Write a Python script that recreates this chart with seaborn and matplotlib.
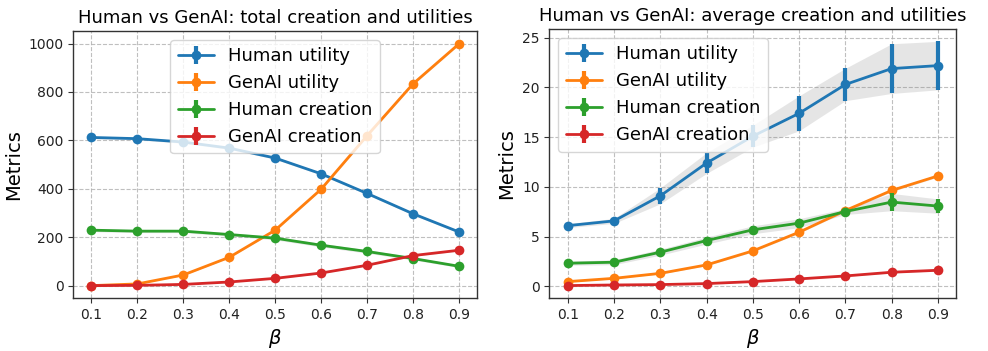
import numpy as np
import pandas as pd
import seaborn as sns
import matplotlib
matplotlib.use("Agg")
import matplotlib.pyplot as plt
from matplotlib.container import ErrorbarContainer

beta = [0.1, 0.2, 0.3, 0.4, 0.5, 0.6, 0.7, 0.8, 0.9]
series_names = ["Human utility", "GenAI utility", "Human creation", "GenAI creation"]

# total (left panel)
total_human_utility = [612, 607, 593, 568, 527, 462, 381, 297, 222]
total_genai_utility = [0, 7, 44, 117, 229, 398, 619, 833, 998]
total_human_creation = [229, 225, 225, 211, 196, 167, 141, 112, 80]
total_genai_creation = [0, 1, 5, 15, 30, 52, 84, 124, 146]
total_human_utility_std = [5, 5, 5, 5, 5, 5, 5, 5, 5]
total_genai_utility_std = [1, 1, 2, 2, 3, 3, 4, 4, 4]
total_human_creation_std = [6, 6, 6, 6, 7, 7, 7, 6, 5]
total_genai_creation_std = [1, 1, 1, 1, 2, 2, 2, 3, 3]

# average (right panel)
avg_human_utility = [6.1, 6.58, 9.1, 12.4, 15.1, 17.4, 20.3, 21.9, 22.2]
avg_genai_utility = [0.47, 0.8, 1.3, 2.15, 3.56, 5.44, 7.62, 9.64, 11.1]
avg_human_creation = [2.32, 2.42, 3.43, 4.6, 5.68, 6.35, 7.52, 8.47, 8.07]
avg_genai_creation = [0.07, 0.13, 0.17, 0.27, 0.47, 0.74, 1.04, 1.41, 1.61]
avg_human_utility_std = [0.2, 0.25, 0.8, 1.04, 1.1, 1.76, 1.63, 2.5, 2.44]
avg_genai_utility_std = [0.05, 0.05, 0.05, 0.08, 0.1, 0.1, 0.12, 0.12, 0.12]
avg_human_creation_std = [0.2, 0.25, 0.3, 0.35, 0.4, 0.45, 0.3, 0.87, 0.72]
avg_genai_creation_std = [0.02, 0.02, 0.03, 0.03, 0.04, 0.05, 0.05, 0.06, 0.06]

titles = ["Human vs GenAI: total creation and utilities",
          "Human vs GenAI: average creation and utilities"]

panels = [
    ([total_human_utility, total_genai_utility, total_human_creation, total_genai_creation],
     [total_human_utility_std, total_genai_utility_std, total_human_creation_std, total_genai_creation_std]),
    ([avg_human_utility, avg_genai_utility, avg_human_creation, avg_genai_creation],
     [avg_human_utility_std, avg_genai_utility_std, avg_human_creation_std, avg_genai_creation_std]),
]

sns.set_style("ticks")
plt.rcParams['font.family'] = ['DejaVu Sans']
plt.rcParams['text.color'] = 'black'
plt.rcParams['axes.labelcolor'] = 'black'
plt.rcParams['xtick.color'] = '#222222'
plt.rcParams['ytick.color'] = '#222222'
palette = sns.color_palette("tab10", 4)

fig = plt.figure(figsize=(9.88, 3.51), dpi=100)
ax1 = fig.add_axes([0.074, 0.151, 0.409, 0.761])
ax2 = fig.add_axes([0.556, 0.151, 0.412, 0.766])
axes = [ax1, ax2]
legend_locs = ["upper center", "upper left"]

for ax, (means, stds), title, loc in zip(axes, panels, titles, legend_locs):
    handles = []
    for name, m, s, c in zip(series_names, means, stds, palette):
        m = np.array(m, dtype=float)
        s = np.array(s, dtype=float)
        df = pd.DataFrame({"beta": beta, "value": m})
        ax.fill_between(beta, m - s, m + s, color="grey", alpha=0.2, linewidth=0, zorder=1)
        sns.lineplot(data=df, x="beta", y="value", ax=ax, color=c, marker="o",
                     markersize=7, markeredgewidth=0, linewidth=2, legend=False, zorder=3)
        data_line = ax.get_lines()[-1]
        eb = ax.errorbar(beta, m, yerr=s, fmt="none", ecolor=c, elinewidth=3, zorder=3)
        handles.append(ErrorbarContainer((data_line, (), eb.lines[2]),
                                         has_xerr=False, has_yerr=True, label=name))
    ax.grid(True, linestyle="--", color="#b0b0b0", alpha=0.8, linewidth=0.8)
    ax.set_xticks(beta)
    ax.set_xticklabels([f"{b:.1f}" for b in beta])
    ax.tick_params(labelsize=10, direction="out", length=3.5, color="#333333")
    for sp in ax.spines.values():
        sp.set_color("#333333")
        sp.set_linewidth(1.0)
    ax.set_xlabel(r"$\beta$", fontsize=14)
    ax.set_ylabel("Metrics", fontsize=14)
    ax.set_title(title, fontsize=13)
    ax.legend(handles=handles, labels=series_names, loc=loc, fontsize=13, framealpha=0.8)

fig.savefig("out.png", dpi=100)
